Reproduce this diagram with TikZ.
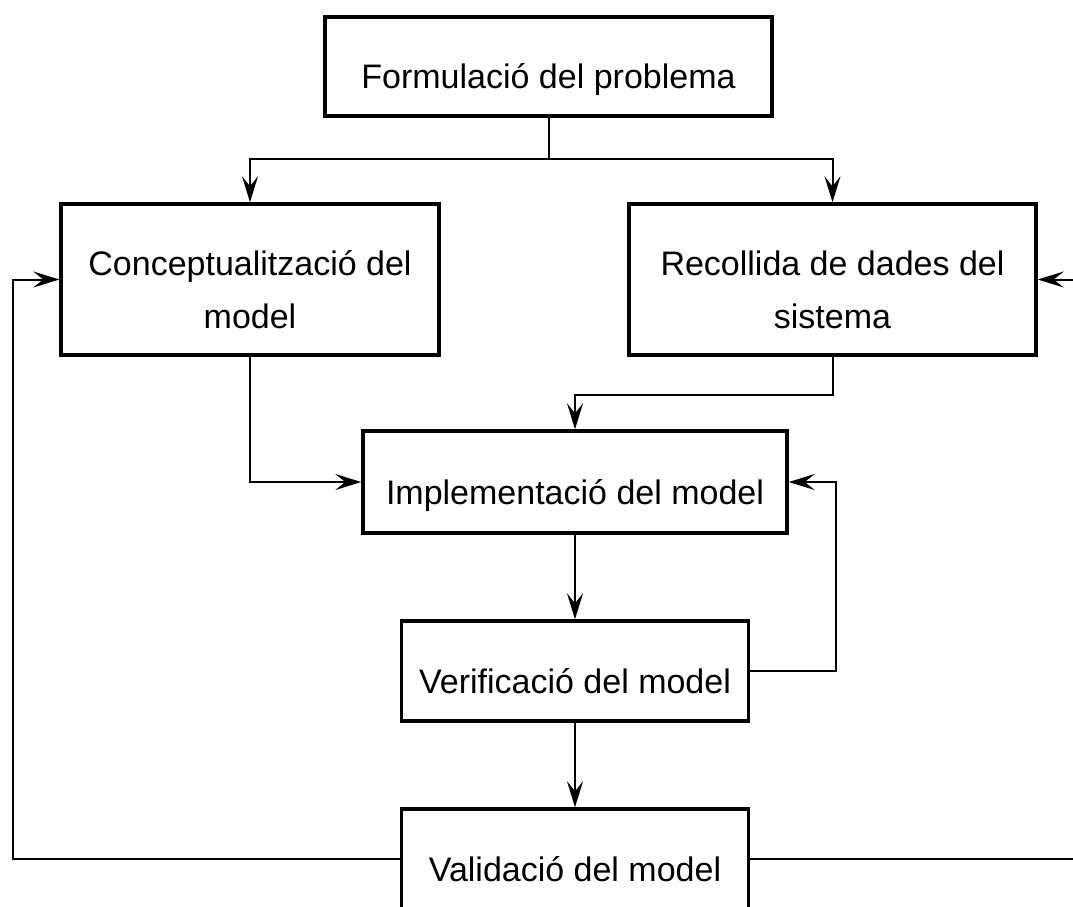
\documentclass[tikz,border=0pt]{standalone}
\usepackage{fontspec}
\setmainfont{Liberation Sans}
\usetikzlibrary{arrows.meta}

\tikzset{
  stage/.style={draw, line width=3.4pt, rectangle, inner sep=0pt, align=center,
    font=\fontsize{34}{53}\selectfont},
  oneline/.style={stage, text height=44pt, text depth=0pt},
  twoline/.style={stage, text height=97pt, text depth=0pt},
  conn/.style={line width=2pt},
  flow/.style={conn, -{Stealth[length=26pt, width=16pt, inset=10pt]}}
}

\begin{document}
\begin{tikzpicture}[x=1pt, y=-1pt]
  \useasboundingbox (0,0) rectangle (1073,906);
  \clip (0,0) rectangle (1073,906);

  % stages of the modelling process
  \node[oneline, minimum width=447pt, minimum height=99pt] (form) at (548.5,66.5) {Formulació del problema};
  \node[twoline, minimum width=378pt, minimum height=151pt] (concept) at (250,279.5) {Conceptualització del\\model};
  \node[twoline, minimum width=407pt, minimum height=151pt] (recoll) at (832.5,279.5) {Recollida de dades del\\sistema};
  \node[oneline, minimum width=424pt, minimum height=102pt] (impl) at (575,482) {Implementació del model};
  \node[oneline, minimum width=347pt, minimum height=100pt] (verif) at (575,671) {Verificació del model};
  \node[oneline, minimum width=347pt, minimum height=100pt] (valid) at (575,859) {Validació del model};

  % routing points
  \coordinate (split) at (548.5,159);
  \coordinate (leftback) at (12.5,859);
  \coordinate (rightback) at (1095,859);

  % forward flow
  \draw[conn] (form.south) -- (split);
  \draw[flow] (split) -| (concept.north);
  \draw[flow] (split) -| (recoll.north);
  \draw[flow] (concept.south) |- (impl.west);
  \draw[flow] (recoll.south) -- ++(0,38) -| (impl.north);
  \draw[flow] (impl.south) -- (verif.north);
  \draw[flow] (verif.south) -- (valid.north);

  % feedback loops
  \draw[flow] (verif.east) -- ++(86,0) |- (impl.east);
  \draw[flow] (valid.west) -- (leftback) |- (concept.west);
  \draw[flow] (valid.east) -- (rightback) |- (recoll.east);
\end{tikzpicture}
\end{document}
